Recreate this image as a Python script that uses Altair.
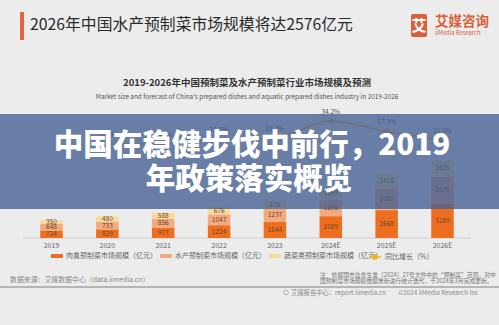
import altair as alt
import pandas as pd

# ---------------- data ----------------
years = ["2019", "2020", "2021", "2022", "2023", "2024E", "2025E", "2026E"]
meat = [724, 829, 977, 1224, 1544, 2089, 2668, 3289]
aquatic = [648, 733, 856, 1047, 1237, 1595, 2089, 2576]
veg = [350, 480, 588, 676, 835, 1169, 1416, 1625]
growth_years = ["2020", "2021", "2022", "2023", "2024E", "2025E", "2026E"]
growth = [18.6, 18.6, 21.7, 22.7, 34.2, 27.3, 21.3]
series_names = ["肉禽预制菜市场规模（亿元）", "水产预制菜市场规模（亿元）", "蔬菜类预制菜市场规模（亿元）"]
growth_name = "同比增长（%）"
series_colors = ["#ee6e20", "#f2aa7e", "#f6dc98"]
growth_color = "#f0b429"

FONT = "Noto Sans CJK SC"
W, H = 499, 325

# ---------------- tables ----------------
rows = []
for i, y in enumerate(years):
    lower = 0
    for k, vals in enumerate([meat, aquatic, veg]):
        v = vals[i]
        rows.append({"year": y, "series": series_names[k], "value": v,
                     "lower": lower, "upper": lower + v, "mid": lower + v / 2})
        lower += v
bars_df = pd.DataFrame(rows)
growth_df = pd.DataFrame({"year": growth_years, "growth": growth,
                          "series": [growth_name] * len(growth_years),
                          "label": [f"{g:.1f}%" for g in growth]})
years_df = pd.DataFrame({"year": years})
one = pd.DataFrame({"k": [0]})

xscale = alt.Scale(domain=years, range=[23, 471], paddingInner=0.597, paddingOuter=0.3085)
X = alt.X("year:N", scale=xscale, axis=None, sort=years)
ybar_scale = alt.Scale(domain=[0, 22780], range=[238, 0])
yline_scale = alt.Scale(domain=[-45.2, 116.4], range=[238, 0])

legend_common = dict(orient="none", legendY=250, direction="horizontal", title=None,
                     labelFont=FONT, labelFontSize=7, labelColor="#666666",
                     labelOffset=3, padding=0, columnPadding=3, labelLimit=0)

bars = alt.Chart(bars_df).mark_bar().encode(
    x=X,
    y=alt.Y("lower:Q", scale=ybar_scale, axis=None),
    y2="upper:Q",
    color=alt.Color("series:N", scale=alt.Scale(domain=series_names, range=series_colors),
                    legend=alt.Legend(legendX=51, symbolType="M-1,-0.33H1V0.33H-1Z",
                                      symbolSize=144, symbolStrokeWidth=0, **legend_common)),
)
bar_labels = alt.Chart(bars_df).mark_text(font=FONT, fontSize=6.5, color="#6e4426").encode(
    x=X,
    y=alt.Y("mid:Q", scale=ybar_scale, axis=None),
    text="value:Q",
)
line = alt.Chart(growth_df).mark_line(interpolate="monotone", strokeWidth=1.5).encode(
    x=X,
    y=alt.Y("growth:Q", scale=yline_scale, axis=None),
    stroke=alt.Stroke("series:N", scale=alt.Scale(domain=[growth_name], range=[growth_color]),
                      legend=alt.Legend(legendX=368,
                                        symbolType="M-1,0H1M-0.35,0A0.35,0.35 0 1,0 0.35,0A0.35,0.35 0 1,0 -0.35,0",
                                        symbolSize=144, symbolStrokeWidth=1.5,
                                        symbolFillColor=growth_color, **legend_common)),
)
points = alt.Chart(growth_df).mark_circle(size=28, color=growth_color, opacity=1).encode(
    x=X, y=alt.Y("growth:Q", scale=yline_scale, axis=None))
line_labels = alt.Chart(growth_df).mark_text(font=FONT, fontSize=6.5, color="#555555", dy=-9).encode(
    x=X, y=alt.Y("growth:Q", scale=yline_scale, axis=None), text="label:N")
year_labels = alt.Chart(years_df).mark_text(font=FONT, fontSize=7, color="#666666").encode(
    x=X, y=alt.value(246), text="year:N")


def rule(x1, x2, y, color, width):
    return alt.Chart(one).mark_rule(color=color, strokeWidth=width).encode(
        x=alt.value(x1), x2=alt.value(x2), y=alt.value(y))


def rect(x1, x2, y1, y2, color, opacity=1.0, radius=0):
    return alt.Chart(one).mark_rect(color=color, opacity=opacity, cornerRadius=radius).encode(
        x=alt.value(x1), x2=alt.value(x2), y=alt.value(y1), y2=alt.value(y2))


def text(x, y, s, size, color, weight="normal", align="left", font=FONT):
    return alt.Chart(one).mark_text(font=font, fontSize=size, color=color, fontWeight=weight,
                                    align=align, baseline="middle").encode(
        x=alt.value(x), y=alt.value(y), text=alt.value(s))


baseline = rule(23, 471, 238, "#cfcfcf", 1)

header = [
    rect(20, 24, 12, 40, "#e0663a"),
    text(30, 25, "2026年中国水产预制菜市场规模将达2576亿元", 15.8, "#2a2a2a"),
    rect(411, 427, 14, 37, "#d9603b", radius=2),
    text(419, 26, "艾", 15, "#ffffff", weight="bold", align="center"),
    text(435, 22, "艾媒咨询", 13.5, "#d9603b", weight="bold"),
    text(435, 33, "iiMedia Research", 5.8, "#d9603b"),
    text(247, 83, "2019-2026年中国预制菜及水产预制菜行业市场规模及预测", 9.5, "#333333", weight="bold", align="center"),
    text(247, 96.5, "Market size and forecast of China's prepared dishes and aquatic prepared dishes industry in 2019-2026",
         6.4, "#555555", align="center"),
]

footer = [
    text(10, 280, "数据来源：艾媒数据中心（data.iimedia.cn）", 6.9, "#888888"),
    text(320, 275, "注：依据国市监食生发〔2024〕27号文件中的“预制菜”范围，对中", 5.8, "#777777"),
    text(320, 280.5, "国预制菜市场规模数据重新进行统计迭代，于2024年3月完成更新。", 5.8, "#777777"),
    rule(0, W, 287, "#b5b5b5", 2),
    alt.Chart(one).mark_point(shape="circle", size=22, color="#999999", strokeWidth=1).encode(
        x=alt.value(286), y=alt.value(292.5)),
    text(291, 292.5, "艾媒报告中心：report.iimedia.cn", 6.3, "#888888"),
    text(398, 292.5, "©2024 iiMedia Research Inc", 6.3, "#888888"),
]

banner = [
    rect(0, W, 114, 209, "#445f92", opacity=0.78),
    text(252, 146, "中国在稳健步伐中前行，2019", 29.5, "#ffffff", weight=900, align="center"),
    text(249, 180, "年政策落实概览", 29.5, "#ffffff", weight=900, align="center"),
]

chart = alt.layer(
    *header, baseline, bars, bar_labels, line, points, line_labels, year_labels,
    *footer, *banner
).resolve_scale(y="independent").properties(
    width=W, height=H, background="#ececec", padding=0,
    autosize=alt.AutoSizeParams(type="none"),
).configure_view(stroke=None)

chart.save("out.html", embed_options={"renderer": "svg", "actions": False})
